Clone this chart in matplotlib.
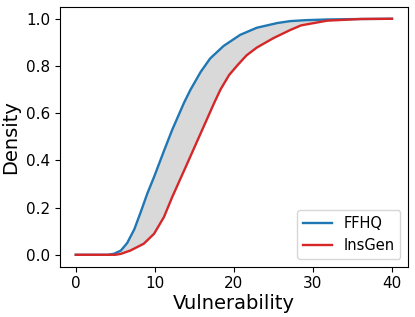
import numpy as np
import matplotlib
matplotlib.use("Agg")
import matplotlib.pyplot as plt

# FFHQ cumulative curve (x: vulnerability, y: cumulative density)
ffhq_x = [0, 4.0, 4.8, 5.7, 6.5, 7.4, 8.2, 9.05, 9.9, 11.15, 12.2, 13.7, 14.5, 15.8, 17.0, 18.7, 20.8, 22.9, 25.5, 27.1, 29.0, 31.8, 36.0, 40.0]
ffhq_y = [0, 0.0, 0.004, 0.018, 0.05, 0.108, 0.18, 0.26, 0.33, 0.44, 0.53, 0.645, 0.699, 0.775, 0.832, 0.885, 0.932, 0.962, 0.982, 0.99, 0.994, 0.997, 0.999, 1.0]

# InsGen cumulative curve
insgen_x = [0, 5.0, 5.7, 6.9, 8.6, 9.9, 11.15, 12.2, 14.1, 15.8, 17.5, 18.3, 19.4, 20.5, 21.6, 22.9, 25.0, 27.1, 28.5, 31.8, 36.0, 40.0]
insgen_y = [0, 0.0, 0.004, 0.018, 0.047, 0.089, 0.16, 0.245, 0.387, 0.515, 0.643, 0.70, 0.762, 0.805, 0.845, 0.878, 0.918, 0.952, 0.972, 0.992, 0.999, 1.0]

xticks = [0, 10, 20, 30, 40]
yticks = [0.0, 0.2, 0.4, 0.6, 0.8, 1.0]

fig = plt.figure(figsize=(4.15, 3.17), dpi=100)
ax = fig.add_axes([0.1446, 0.159, 0.838, 0.819])

poly_x = np.concatenate([ffhq_x, insgen_x[::-1]])
poly_y = np.concatenate([ffhq_y, insgen_y[::-1]])
ax.fill(poly_x, poly_y, color="lightgray", alpha=0.85, linewidth=0)

ax.plot(ffhq_x, ffhq_y, color="#1f77b4", lw=1.7, label="FFHQ")
ax.plot(insgen_x, insgen_y, color="#d62728", lw=1.7, label="InsGen")

ax.set_xticks(xticks)
ax.set_yticks(yticks)
ax.set_xlim(-2, 42)
ax.set_ylim(-0.05, 1.05)
ax.tick_params(labelsize=11)
ax.set_xlabel("Vulnerability", fontsize=14, labelpad=2)
ax.set_ylabel("Density", fontsize=14)
ax.legend(loc="lower right", fontsize=10.5)

fig.savefig("out.png", dpi=100)
